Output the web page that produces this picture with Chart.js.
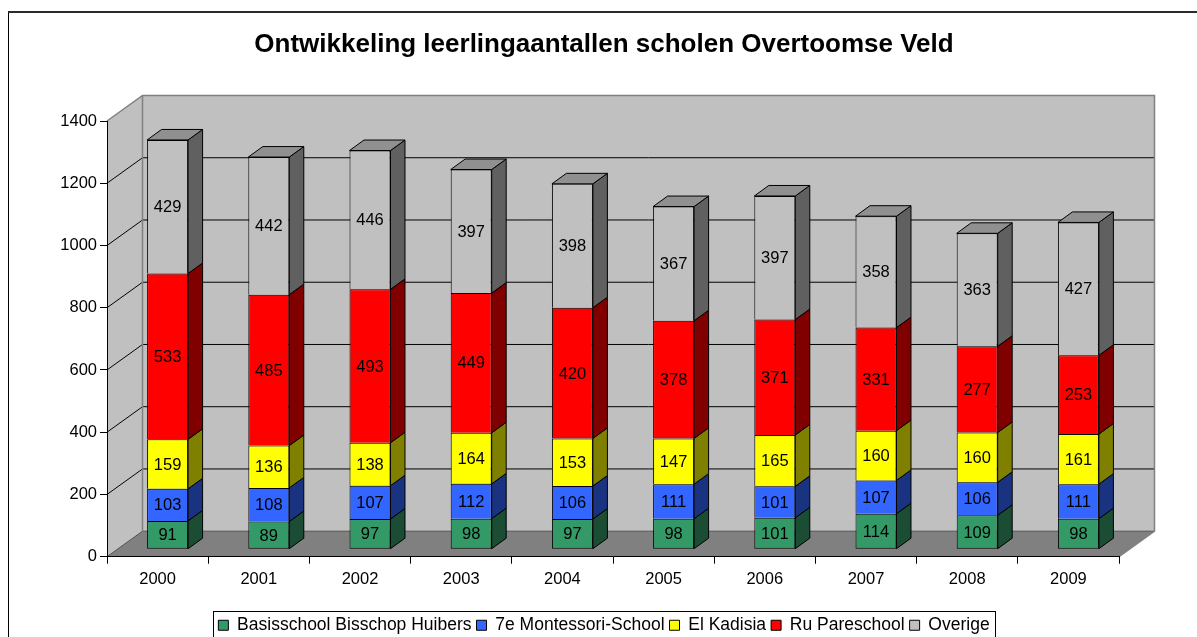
<!DOCTYPE html>
<html>
<head>
<meta charset="utf-8">
<script src="https://cdn.jsdelivr.net/npm/chart.js@4.4.1/dist/chart.umd.min.js"></script>
<style>
  html, body { margin: 0; padding: 0; background: #fff; }
  #wrap { width: 1197px; height: 637px; position: relative; }
  canvas { display: block; }
</style>
</head>
<body>
<div id="wrap"><canvas id="chart" width="1197" height="637"></canvas></div>
<script>
// ---------- data ----------
const chartTitle = 'Ontwikkeling leerlingaantallen scholen Overtoomse Veld';
const years = ['2000', '2001', '2002', '2003', '2004', '2005', '2006', '2007', '2008', '2009'];
const seriesNames = ['Basisschool Bisschop Huibers', '7e Montessori-School', 'El Kadisia', 'Ru Pareschool', 'Overige'];
const basisschoolBisschopHuibers = [91, 89, 97, 98, 97, 98, 101, 114, 109, 98];
const montessoriSchool = [103, 108, 107, 112, 106, 111, 101, 107, 106, 111];
const elKadisia = [159, 136, 138, 164, 153, 147, 165, 160, 160, 161];
const ruPareschool = [533, 485, 493, 449, 420, 378, 371, 331, 277, 253];
const overige = [429, 442, 446, 397, 398, 367, 397, 358, 363, 427];
const yMin = 0, yMax = 1400, yStep = 200;

// ---------- style ----------
const FONT = '"Liberation Sans", Arial, sans-serif';
const frontColors = ['#339966', '#3366FF', '#FFFF00', '#FF0000', '#C0C0C0'];
const sideColors  = ['#1A4D33', '#1A3380', '#808000', '#800000', '#606060'];
const topColors   = ['#267350', '#264DBF', '#BFBF00', '#BF0000', '#909090'];
const WALL = { dx: 35.5, dy: -25.5 };      // depth of the 3D walls
const BAR_SHIFT = { dx: 10, dy: -7.5 };    // bar front face position in depth
const BAR_DEPTH = { dx: 14.5, dy: -10.5 }; // depth of each bar

const seriesValues = [basisschoolBisschopHuibers, montessoriSchool, elKadisia, ruPareschool, overige];

const datasets = seriesValues.map((vals, i) => ({
  label: seriesNames[i],
  data: vals,
  backgroundColor: frontColors[i],
  borderColor: '#000',
  borderWidth: i === 0 ? { top: 1, left: 1, right: 1, bottom: 1 } : { top: 1, left: 1, right: 1, bottom: 0 },
  borderSkipped: false,
  barPercentage: 0.405,
  categoryPercentage: 1.0,
  clip: false
}));

function poly(ctx, pts, fill, stroke, lw) {
  ctx.beginPath();
  ctx.moveTo(pts[0][0], pts[0][1]);
  for (let k = 1; k < pts.length; k++) ctx.lineTo(pts[k][0], pts[k][1]);
  ctx.closePath();
  if (fill) { ctx.fillStyle = fill; ctx.fill(); }
  if (stroke) { ctx.strokeStyle = stroke; ctx.lineWidth = lw || 1; ctx.stroke(); }
}

const scene3d = {
  id: 'scene3d',
  beforeDraw(chart) {
    const { ctx, chartArea: a, scales } = chart;
    const W = chart.width, H = chart.height;
    const L = a.left, R = a.right, T = a.top, B = a.bottom;
    const dx = WALL.dx, dy = WALL.dy;
    ctx.save();
    ctx.fillStyle = '#fff';
    ctx.fillRect(0, 0, W, H);
    // outer frame
    ctx.strokeStyle = '#000'; ctx.lineWidth = 1;
    ctx.beginPath(); ctx.moveTo(8.5, H + 2); ctx.lineTo(8.5, 12); ctx.stroke();
    ctx.strokeStyle = '#2a2a2a'; ctx.lineWidth = 2;
    ctx.beginPath(); ctx.moveTo(8, 12); ctx.lineTo(W + 2, 12); ctx.stroke();
    // back wall, side wall, floor
    poly(ctx, [[L + dx, T + dy], [R + dx, T + dy], [R + dx, B + dy], [L + dx, B + dy]], '#C0C0C0');
    poly(ctx, [[L, B], [L, T], [L + dx, T + dy], [L + dx, B + dy]], '#C0C0C0');
    poly(ctx, [[L, B], [R, B], [R + dx, B + dy], [L + dx, B + dy]], '#808080');
    // gridlines on the walls, from the y scale ticks
    const y = scales.y;
    ctx.lineWidth = 1;
    y.ticks.forEach(t => {
      if (t.value >= yMax) return;
      const py = y.getPixelForValue(t.value);
      ctx.strokeStyle = t.value === yMin ? '#505050' : '#000';
      ctx.beginPath();
      ctx.moveTo(L, py); ctx.lineTo(L + dx, py + dy); ctx.lineTo(R + dx, py + dy);
      ctx.stroke();
    });
    // wall outlines
    ctx.strokeStyle = '#808080'; ctx.lineWidth = 1.5;
    ctx.beginPath();
    ctx.moveTo(L, T); ctx.lineTo(L + dx, T + dy); ctx.lineTo(R + dx, T + dy); ctx.lineTo(R + dx, B + dy);
    ctx.lineTo(R, B);
    ctx.moveTo(L + dx, T + dy); ctx.lineTo(L + dx, B + dy);
    ctx.stroke();
    ctx.restore();
  },
  beforeDatasetsDraw(chart) {
    const { ctx } = chart;
    const n = chart.data.datasets.length;
    ctx.save();
    for (let i = 0; i < n; i++) {
      const meta = chart.getDatasetMeta(i);
      meta.data.forEach(el => {
        const p = el.getProps(['x', 'y', 'base', 'width'], true);
        const top = Math.min(p.y, p.base) + BAR_SHIFT.dy;
        const bot = Math.max(p.y, p.base) + BAR_SHIFT.dy;
        const xl = p.x - p.width / 2 + BAR_SHIFT.dx;
        const xr = p.x + p.width / 2 + BAR_SHIFT.dx;
        const ddx = BAR_DEPTH.dx, ddy = BAR_DEPTH.dy;
        poly(ctx, [[xr, top], [xr + ddx, top + ddy], [xr + ddx, bot + ddy], [xr, bot]], sideColors[i], '#000', 1);
        if (i === n - 1) {
          poly(ctx, [[xl, top], [xl + ddx, top + ddy], [xr + ddx, top + ddy], [xr, top]], topColors[i], '#000', 1);
        }
      });
    }
    ctx.restore();
    ctx.save();
    ctx.translate(BAR_SHIFT.dx, BAR_SHIFT.dy);
  },
  afterDatasetsDraw(chart) {
    const { ctx } = chart;
    ctx.restore();
    ctx.save();
    ctx.fillStyle = '#000';
    ctx.font = '16.5px ' + FONT;
    ctx.textAlign = 'center';
    ctx.textBaseline = 'middle';
    chart.data.datasets.forEach((ds, i) => {
      const meta = chart.getDatasetMeta(i);
      meta.data.forEach((el, j) => {
        const p = el.getProps(['x', 'y', 'base'], true);
        ctx.fillText(String(ds.data[j]), p.x + BAR_SHIFT.dx, (p.y + p.base) / 2 + BAR_SHIFT.dy + 1);
      });
    });
    ctx.restore();
  },
  afterDraw(chart) {
    const lg = chart.legend;
    if (!lg || !lg.legendHitBoxes || !lg.legendHitBoxes.length) return;
    const hb = lg.legendHitBoxes;
    const first = hb[0], last = hb[hb.length - 1];
    const { ctx } = chart;
    ctx.save();
    ctx.strokeStyle = '#000'; ctx.lineWidth = 1;
    const x0 = Math.round(first.left - 5) + 0.5;
    const x1 = Math.round(last.left + last.width + 5) + 0.5;
    const y0 = Math.round(lg.top - 1) + 0.5;
    ctx.strokeRect(x0, y0, x1 - x0, chart.height + 10 - y0);
    ctx.restore();
  }
};

const chart = new Chart(document.getElementById('chart'), {
  type: 'bar',
  data: { labels: years, datasets },
  plugins: [scene3d],
  options: {
    responsive: false,
    animation: false,
    devicePixelRatio: 1,
    layout: { padding: { left: 11, right: 0, top: 0, bottom: -7 } },
    plugins: {
      title: {
        display: true,
        text: chartTitle,
        color: '#000',
        font: { family: FONT, size: 26, weight: 'bold' },
        padding: { top: 29.6, bottom: 60.2 }
      },
      legend: {
        display: true,
        position: 'bottom',
        labels: {
          color: '#000',
          font: { family: FONT, size: 17.5 },
          boxWidth: 10,
          boxHeight: 10,
          padding: 5,
          generateLabels(c) {
            const items = Chart.defaults.plugins.legend.labels.generateLabels(c);
            items.forEach(it => { it.lineWidth = 1; it.strokeStyle = '#000'; });
            return items;
          }
        }
      },
      tooltip: { enabled: false }
    },
    scales: {
      x: {
        stacked: true,
        offset: true,
        ticks: { color: '#000', font: { family: FONT, size: 16.5 }, padding: 6, maxRotation: 0 },
        grid: { drawOnChartArea: false, drawTicks: true, tickLength: 7, color: '#000', offset: true },
        border: { display: true, color: '#000' },
        afterFit(s) { s.height = 54.8; }
      },
      y: {
        stacked: true,
        min: yMin,
        max: yMax,
        ticks: { stepSize: yStep, color: '#000', font: { family: FONT, size: 16.5 }, padding: 3,
                 callback: v => String(v) },
        grid: { drawOnChartArea: false, drawTicks: true, tickLength: 7, color: '#000' },
        border: { display: true, color: '#000' },
        afterFit(s) { s.width = 96; }
      },
      y2: {
        type: 'linear',
        position: 'right',
        display: true,
        grid: { display: false, drawTicks: false },
        ticks: { display: false },
        border: { display: false },
        afterFit(s) { s.width = 78; }
      }
    }
  }
});
</script>
</body>
</html>
